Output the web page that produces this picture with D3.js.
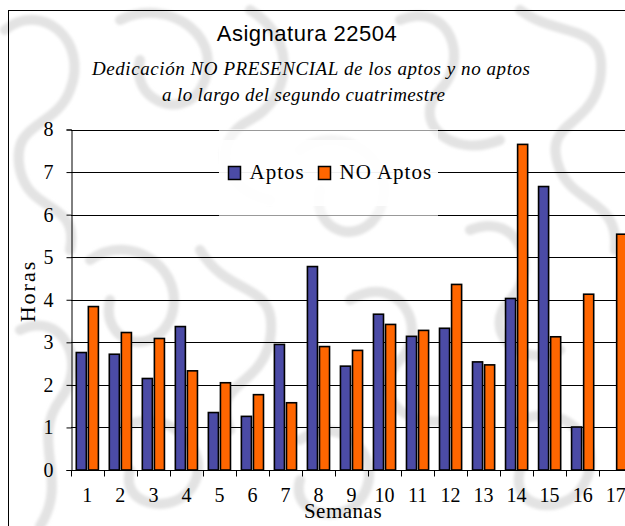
<!DOCTYPE html>
<html>
<head>
<meta charset="utf-8">
<script src="https://cdn.jsdelivr.net/npm/d3@7"></script>
<style>
    body { margin: 0; background: #fff; }
    svg { display: block; }
</style>
</head>
<body>
<svg id="chart"></svg>
<script>
// Datos
const semanas = ["1", "2", "3", "4", "5", "6", "7", "8", "9", "10", "11", "12", "13", "14", "15", "16", "17"];
const series = ["Aptos", "NO Aptos"];
const aptos = [2.76, 2.72, 2.15, 3.37, 1.35, 1.26, 2.95, 4.78, 2.44, 3.66, 3.14, 3.33, 2.54, 4.03, 6.66, 1.01, 0];
const noAptos = [3.84, 3.23, 3.09, 2.33, 2.05, 1.77, 1.58, 2.90, 2.81, 3.42, 3.28, 4.36, 2.47, 7.65, 3.13, 4.13, 5.54];
const yTicks = [0, 1, 2, 3, 4, 5, 6, 7, 8];

const colores = { "Aptos": "#4b4ba6", "NO Aptos": "#ff6600" };

// Trazos decorativos del fondo (marca de agua gris, dibujada a mano)
const fondo = [
    "M5,30 C40,0 90,40 70,90 C55,130 10,120 20,170 C30,215 80,200 70,250",
    "M120,20 C170,-5 230,40 200,90 C180,120 130,100 140,60",
    "M250,10 C300,40 290,100 250,120 C210,140 220,190 270,200",
    "M300,150 C340,120 400,160 380,210 C360,250 310,230 320,190",
    "M400,20 C450,0 470,60 440,90 C410,120 450,160 500,140",
    "M520,10 C560,40 610,20 600,80 C590,130 540,120 560,170 C575,205 620,200 615,250",
    "M90,260 C130,230 190,270 170,320 C150,360 100,340 110,300",
    "M200,250 C230,300 280,280 270,340 C260,390 210,380 230,430",
    "M350,300 C400,270 430,330 400,360 C370,390 400,430 450,420",
    "M470,230 C520,210 540,270 510,300 C480,330 520,370 560,350",
    "M20,330 C60,310 90,360 60,400 C30,440 70,480 40,526",
    "M120,430 C160,400 220,450 190,490 C170,515 120,505 130,470",
    "M300,440 C340,410 390,460 360,500 C340,525 290,515 300,480",
    "M520,420 C570,400 610,450 580,490 C560,515 510,510 520,470"
];

function renderBarChart(containerSelector) {
    const width = 625, height = 526;
    const svg = d3.select(containerSelector)
        .attr("width", width)
        .attr("height", height);

    svg.selectAll("*").remove();

    // Área de trazado (sigue más allá del borde derecho, como en la imagen)
    const plot = { left: 71, right: 632, top: 129.5, bottom: 470 };

    // --- Fondo ---
    svg.append("defs")
        .append("filter")
        .attr("id", "suave")
        .append("feGaussianBlur")
        .attr("stdDeviation", 1.5);

    svg.append("rect")
        .attr("width", width).attr("height", height)
        .attr("fill", "#fff");

    svg.append("g")
        .attr("filter", "url(#suave)")
        .selectAll("path")
        .data(fondo)
        .enter()
        .append("path")
        .attr("d", d => d)
        .attr("fill", "none")
        .attr("stroke", "#e3e3e3")
        .attr("stroke-width", 10)
        .attr("stroke-linecap", "round");

    // --- Borde exterior ---
    svg.append("rect")
        .attr("x", 8.5).attr("y", 10.5)
        .attr("width", 700).attr("height", 600)
        .attr("fill", "none")
        .attr("stroke", "#000");

    // --- Escalas ---
    const x0 = d3.scaleBand()
        .domain(semanas)
        .range([plot.left, plot.right])
        .paddingInner(0.33)
        .paddingOuter(0.16);

    const x1 = d3.scaleBand()
        .domain(series)
        .range([0, x0.bandwidth()])
        .paddingInner(0.167);

    const y = d3.scaleLinear()
        .domain([0, 8])
        .range([plot.bottom, plot.top]);

    const step = x0.step();
    const offset = step * x0.paddingOuter();

    // --- Líneas de división horizontales ---
    svg.append("g")
        .selectAll("line")
        .data(yTicks.filter(d => d > 0))
        .enter()
        .append("line")
        .attr("x1", plot.left)
        .attr("x2", width + 10)
        .attr("y1", d => Math.round(y(d)) + 0.5)
        .attr("y2", d => Math.round(y(d)) + 0.5)
        .attr("stroke", "#000")
        .attr("stroke-width", 1);

    // --- Leyenda (tapa las líneas de división) ---
    const legend = svg.append("g");
    legend.append("rect")
        .attr("x", 219).attr("y", 129)
        .attr("width", 219).attr("height", 87)
        .attr("fill", "#fff")
        .attr("fill-opacity", 0.6);
    legend.append("rect")
        .attr("x", 219).attr("y", 140)
        .attr("width", 219).attr("height", 66)
        .attr("fill", "#fff")
        .attr("fill-opacity", 0.85);

    const legendX = [228.5, 318.5];
    const item = legend.selectAll(".item")
        .data(series)
        .enter()
        .append("g")
        .attr("class", "item")
        .attr("transform", (d, i) => `translate(${legendX[i]}, 166.5)`);

    item.append("rect")
        .attr("width", 12).attr("height", 13)
        .attr("fill", d => colores[d])
        .attr("stroke", "#000")
        .attr("stroke-width", 1.5);

    item.append("text")
        .attr("x", 21)
        .attr("y", 12.5)
        .style("font-family", "'Liberation Serif', serif")
        .style("font-size", "21px")
        .style("letter-spacing", "1px")
        .attr("fill", "#000")
        .text(d => d);

    // --- Barras ---
    const rows = semanas.map((s, i) => ({ semana: s, valores: [aptos[i], noAptos[i]] }));

    const groups = svg.append("g")
        .selectAll("g")
        .data(rows)
        .enter()
        .append("g")
        .attr("transform", d => `translate(${x0(d.semana)}, 0)`);

    groups.selectAll("rect")
        .data(d => d.valores.map((v, i) => ({ serie: series[i], valor: v })).filter(d => d.valor > 0))
        .enter()
        .append("rect")
        .attr("x", d => x1(d.serie))
        .attr("y", d => y(d.valor))
        .attr("width", x1.bandwidth())
        .attr("height", d => y(0) - y(d.valor))
        .attr("fill", d => colores[d.serie])
        .attr("stroke", "#000")
        .attr("stroke-width", 1.6);

    // --- Eje Y ---
    const yAxis = svg.append("g")
        .attr("transform", `translate(${plot.left + 0.5}, 0)`)
        .call(d3.axisLeft(y).tickValues(yTicks).tickSize(5).tickPadding(13).tickFormat(d3.format("d")));

    yAxis.select(".domain").attr("stroke", "#000");
    yAxis.selectAll(".tick line").attr("stroke", "#000");
    yAxis.selectAll("text")
        .style("font-family", "'Liberation Serif', serif")
        .style("font-size", "20px")
        .attr("fill", "#000");

    // --- Eje X ---
    const base = Math.round(y(0)) + 0.5;
    svg.append("line")
        .attr("x1", plot.left).attr("x2", width + 10)
        .attr("y1", base).attr("y2", base)
        .attr("stroke", "#000");

    // Marcas entre categorías
    svg.append("g")
        .selectAll("line")
        .data(semanas)
        .enter()
        .append("line")
        .attr("x1", d => Math.round(x0(d) - offset) + 0.5)
        .attr("x2", d => Math.round(x0(d) - offset) + 0.5)
        .attr("y1", base)
        .attr("y2", base + 6)
        .attr("stroke", "#000");

    svg.append("g")
        .selectAll("text")
        .data(semanas)
        .enter()
        .append("text")
        .attr("x", d => x0(d) + x0.bandwidth() / 2)
        .attr("y", 502)
        .attr("text-anchor", "middle")
        .style("font-family", "'Liberation Serif', serif")
        .style("font-size", "20px")
        .attr("fill", "#000")
        .text(d => d);

    // --- Títulos de los ejes ---
    svg.append("text")
        .attr("x", 343)
        .attr("y", 518)
        .attr("text-anchor", "middle")
        .style("font-family", "'Liberation Serif', serif")
        .style("font-size", "21px")
        .style("letter-spacing", "0.5px")
        .attr("fill", "#000")
        .text("Semanas");

    svg.append("text")
        .attr("transform", "translate(35, 291) rotate(-90)")
        .attr("text-anchor", "middle")
        .style("font-family", "'Liberation Serif', serif")
        .style("font-size", "22px")
        .style("letter-spacing", "2px")
        .attr("fill", "#000")
        .text("Horas");

    // --- Título y subtítulo ---
    svg.append("text")
        .attr("x", 307)
        .attr("y", 41)
        .attr("text-anchor", "middle")
        .style("font-family", "'Liberation Sans', Arial, sans-serif")
        .style("font-size", "22px")
        .style("letter-spacing", "0.5px")
        .attr("fill", "#000")
        .text("Asignatura 22504");

    const sub = ["Dedicación NO PRESENCIAL de los aptos y no aptos", "a lo largo del segundo cuatrimestre"];
    const subAncho = [438, 283];
    svg.append("g")
        .selectAll("text")
        .data(sub)
        .enter()
        .append("text")
        .attr("x", (d, i) => i === 0 ? 92 : 162)
        .attr("y", (d, i) => 75 + i * 26)
        .attr("textLength", (d, i) => subAncho[i])
        .attr("lengthAdjust", "spacing")
        .style("font-family", "'Liberation Serif', serif")
        .style("font-style", "italic")
        .style("font-size", "19px")
        .attr("fill", "#000")
        .text(d => d);
}

renderBarChart("#chart");
</script>
</body>
</html>
